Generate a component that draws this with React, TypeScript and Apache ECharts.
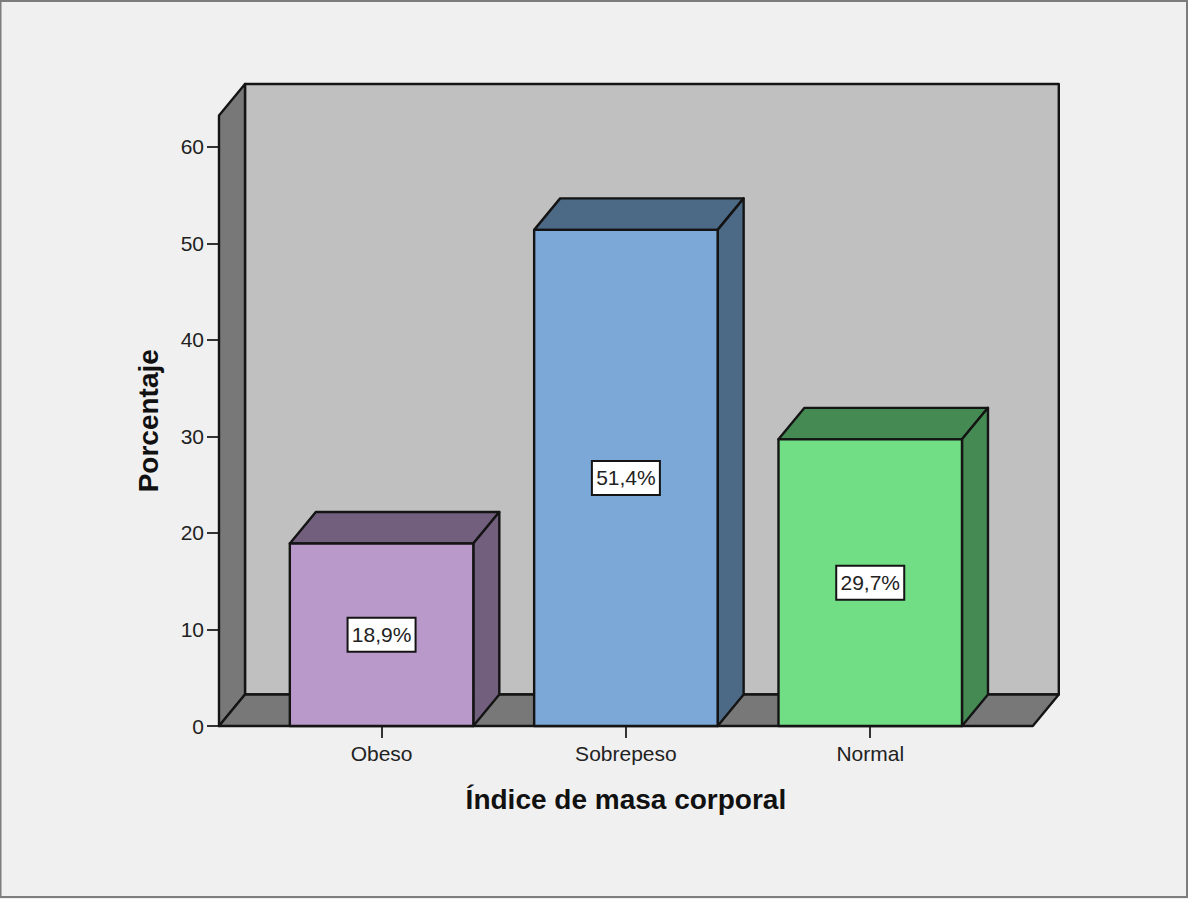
import React, { useEffect, useRef } from "react";
import * as echarts from "echarts";

const categories = ["Obeso", "Sobrepeso", "Normal"];
const percentages = [18.9, 51.4, 29.7];
const valueLabels = ["18,9%", "51,4%", "29,7%"];
const yTicks = [0, 10, 20, 30, 40, 50, 60];
const frontColors = ["#b899ca", "#7ba8d6", "#71dd85"];
const shadeColors = ["#725e7d", "#4c6a85", "#458a53"];

const FONT = "'Liberation Sans', Arial, sans-serif";
const INK = "#141414";
const DEPTH_X = 26;
const DEPTH_Y = 31.5;
const OVERHANG = 40.4;
const BAR_RATIO = 0.751;

const face = (points: number[][], fill: string) => ({
  type: "polygon",
  shape: { points },
  style: { fill, stroke: INK, lineWidth: 2.4, lineJoin: "round" },
});

// Back wall, side wall and floor of the 3D box behind the bars.
const renderRoom = (params: any, api: any) => {
  const cs = params.coordSys;
  const left = cs.x - OVERHANG;
  const right = cs.x + cs.width + OVERHANG;
  const top = cs.y;
  const base = api.coord([0, 0])[1];
  return {
    type: "group",
    children: [
      face(
        [
          [left + DEPTH_X, top - DEPTH_Y],
          [right + DEPTH_X, top - DEPTH_Y],
          [right + DEPTH_X, base - DEPTH_Y],
          [left + DEPTH_X, base - DEPTH_Y],
        ],
        "#c0c0c0",
      ),
      face(
        [
          [left, top],
          [left + DEPTH_X, top - DEPTH_Y],
          [left + DEPTH_X, base - DEPTH_Y],
          [left, base],
        ],
        "#787878",
      ),
      face(
        [
          [left, base],
          [left + DEPTH_X, base - DEPTH_Y],
          [right + DEPTH_X, base - DEPTH_Y],
          [right, base],
        ],
        "#787878",
      ),
    ],
  };
};

// One extruded bar: front, top and side faces plus its boxed value label.
const renderBar = (params: any, api: any) => {
  const index = api.value(0);
  const value = api.value(1);
  const [cx, yTop] = api.coord([index, value]);
  const [, yBase] = api.coord([index, 0]);
  const halfWidth = (api.size([1, 0])[0] * BAR_RATIO) / 2;
  const x0 = cx - halfWidth;
  const x1 = cx + halfWidth;
  const front = frontColors[index];
  const shade = shadeColors[index];
  const labelY = (yTop + yBase) / 2;
  return {
    type: "group",
    children: [
      face(
        [
          [x0, yTop],
          [x0 + DEPTH_X, yTop - DEPTH_Y],
          [x1 + DEPTH_X, yTop - DEPTH_Y],
          [x1, yTop],
        ],
        shade,
      ),
      face(
        [
          [x1, yTop],
          [x1 + DEPTH_X, yTop - DEPTH_Y],
          [x1 + DEPTH_X, yBase - DEPTH_Y],
          [x1, yBase],
        ],
        shade,
      ),
      face(
        [
          [x0, yTop],
          [x1, yTop],
          [x1, yBase],
          [x0, yBase],
        ],
        front,
      ),
      {
        type: "rect",
        shape: { x: cx - 34, y: labelY - 17, width: 68, height: 34 },
        style: { fill: "#ffffff", stroke: INK, lineWidth: 2 },
      },
      {
        type: "text",
        x: cx,
        y: labelY,
        style: {
          text: valueLabels[index],
          fill: "#222222",
          font: `21px ${FONT}`,
          textAlign: "center",
          textVerticalAlign: "middle",
        },
      },
    ],
  };
};

export default function App() {
  const ref = useRef<HTMLDivElement>(null);

  useEffect(() => {
    const chart = echarts.init(ref.current!, undefined, { renderer: "svg" });
    chart.setOption({
      animation: false,
      backgroundColor: "#f0f0f0",
      grid: { left: 259.4, top: 115.5, width: 733, height: 610.5 },
      graphic: [
        {
          type: "rect",
          shape: { x: 0.5, y: 1, width: 1186.5, height: 896 },
          style: { fill: "none", stroke: "#7d7d7d", lineWidth: 2 },
          silent: true,
        },
      ],
      xAxis: {
        type: "category",
        data: categories,
        axisLine: { show: false },
        axisTick: {
          show: true,
          alignWithLabel: true,
          length: 12,
          lineStyle: { color: "#333333", width: 2 },
        },
        axisLabel: { color: "#222222", fontSize: 21, fontFamily: FONT, margin: 17 },
        name: "Índice de masa corporal",
        nameLocation: "middle",
        nameGap: 59,
        nameTextStyle: { color: "#111111", fontSize: 28, fontWeight: "bold", fontFamily: FONT },
      },
      yAxis: {
        type: "value",
        min: 0,
        max: 63.25,
        offset: OVERHANG,
        splitLine: { show: false },
        axisLine: { show: false },
        axisTick: {
          show: true,
          length: 12,
          customValues: yTicks,
          lineStyle: { color: "#333333", width: 2 },
        },
        axisLabel: {
          color: "#222222",
          fontSize: 21,
          fontFamily: FONT,
          margin: 15,
          customValues: yTicks,
        },
        name: "Porcentaje",
        nameLocation: "middle",
        nameGap: 57,
        nameRotate: 90,
        nameTextStyle: { color: "#111111", fontSize: 28, fontWeight: "bold", fontFamily: FONT },
      },
      series: [
        {
          type: "custom",
          z: 1,
          silent: true,
          renderItem: renderRoom,
          data: [[0, 0]],
        },
        {
          type: "custom",
          z: 2,
          silent: true,
          renderItem: renderBar,
          encode: { x: 0, y: 1 },
          data: percentages.map((value, index) => [index, value]),
        },
      ],
    });
    return () => chart.dispose();
  }, []);

  return (
    <div
      ref={ref}
      style={{ position: "absolute", left: 0, top: 0, width: 1188, height: 899 }}
    />
  );
}
